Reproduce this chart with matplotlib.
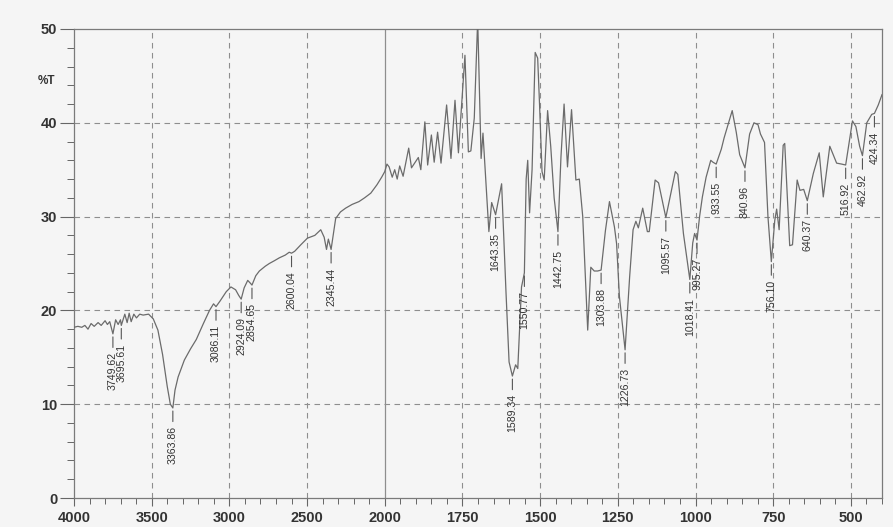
import numpy as np
import matplotlib
matplotlib.use("Agg")
import matplotlib.pyplot as plt
from matplotlib.ticker import FixedLocator, NullFormatter

# IR transmittance spectrum: wavenumber (cm-1, descending) and %T
wavenumber = [
    4000, 3975, 3950, 3930, 3910, 3890, 3870, 3845, 3825, 3800, 3785, 3770,
    3749.62, 3732, 3716, 3701, 3695.61, 3673, 3658, 3645, 3632, 3615, 3598,
    3577, 3555, 3520, 3490, 3460, 3430, 3400, 3380, 3363.86, 3350, 3330,
    3290, 3250, 3213, 3170, 3128, 3102, 3086.11, 3060, 3020, 2990, 2960,
    2940, 2924.09, 2905, 2882, 2865, 2854.65, 2830, 2807, 2770, 2743, 2710,
    2679, 2640, 2615, 2600.04, 2580, 2540, 2498, 2450, 2412, 2390, 2375,
    2363, 2345.44, 2330, 2316, 2285, 2252, 2210, 2166, 2130, 2090, 2050,
    2020, 2000,
    1993, 1986, 1976, 1968, 1960, 1952, 1941, 1923, 1914, 1892, 1884, 1871,
    1862, 1850, 1841, 1830, 1819, 1801, 1787, 1774, 1763, 1742, 1731, 1723,
    1712, 1701, 1690, 1684, 1665, 1656, 1643.35, 1624, 1610, 1600, 1589.34,
    1579, 1572, 1560, 1550.77, 1545, 1540, 1534, 1526, 1516, 1508, 1502,
    1494, 1487, 1476, 1466, 1455, 1442.75, 1433, 1423, 1412, 1399, 1385,
    1374, 1363, 1355, 1347, 1337, 1326, 1315, 1303.88, 1290, 1277, 1261,
    1254, 1245, 1226.73, 1212, 1201, 1192, 1184, 1170, 1155, 1149, 1130,
    1119, 1095.57, 1065, 1057, 1039, 1018.41, 1009, 1003, 995.27, 987, 978,
    966, 951, 944, 933.55, 917, 908, 882, 869, 858, 840.96, 826, 812, 799,
    791, 778, 767, 756.10, 745, 739, 731, 718, 713, 697, 688, 673, 664, 652,
    640.37, 621, 602, 589, 568, 546, 530, 516.92, 495, 484, 472, 462.92, 449,
    433, 424.34, 412, 400,
]
transmittance = [
    18.2, 18.3, 18.2, 18.4, 18.0, 18.6, 18.3, 18.7, 18.4, 18.9, 18.5, 18.8,
    17.5, 19.0, 18.5, 19.0, 18.4, 19.6, 18.7, 19.7, 18.8, 19.6, 19.2,
    19.6, 19.5, 19.6, 19.1, 17.9, 15.3, 11.9, 10.0, 9.6, 11.5, 12.9,
    14.7, 15.9, 16.9, 18.5, 20.0, 20.7, 20.4, 21.0, 22.0, 22.5, 22.2,
    21.6, 21.2, 22.4, 23.2, 22.9, 22.7, 23.7, 24.2, 24.7, 25.0, 25.3,
    25.6, 25.9, 26.2, 26.1, 26.3, 27.0, 27.7, 28.0, 28.6, 27.8, 26.5,
    27.6, 26.5, 28.2, 29.8, 30.5, 30.9, 31.3, 31.6, 32.0, 32.5, 33.4,
    34.2, 34.8,
    35.6, 35.3, 34.2, 35.0, 34.0, 35.4, 34.3, 37.3, 35.2, 36.3, 35.0, 40.1,
    35.5, 38.7, 35.8, 39.0, 35.7, 41.9, 36.2, 42.4, 36.8, 47.2, 36.9, 37.0,
    40.5, 51.0, 36.2, 38.9, 28.4, 31.5, 30.2, 33.5, 22.0, 14.5, 13.0,
    14.2, 13.8, 22.5, 24.0, 34.0, 36.0, 30.4, 35.0, 47.5, 46.9, 42.0,
    34.8, 33.9, 41.3, 37.5, 32.0, 28.4, 36.4, 42.0, 35.3, 41.4, 33.9,
    34.0, 30.0, 24.0, 17.9, 24.6, 24.2, 24.2, 24.3, 28.5, 31.6, 28.9,
    27.1, 21.5, 15.8, 23.6, 28.6, 29.5, 28.8, 30.9, 28.4, 28.4, 33.9,
    33.6, 29.9, 34.8, 34.5, 28.2, 23.3, 27.2, 28.2, 27.5, 30.0, 32.1,
    34.2, 36.0, 35.8, 35.6, 37.2, 38.4, 41.3, 39.0, 36.6, 35.2, 38.8, 40.0, 39.8,
    38.8, 37.9, 30.0, 25.2, 29.6, 30.8, 28.6, 37.6, 37.8, 26.9, 27.0, 33.9, 32.8, 32.9,
    31.7, 34.6, 36.8, 32.1, 37.5, 35.7, 35.6, 35.5, 40.2, 39.6, 37.5, 36.5, 40.0,
    40.9, 41.0, 41.9, 43.0,
]

# Annotated band positions
peak_labels = [
    "3749.62", "3695.61", "3363.86", "3086.11", "2924.09", "2854.65",
    "2600.04", "2345.44", "1643.35", "1589.34", "1550.77", "1442.75",
    "1303.88", "1226.73", "1095.57", "1018.41", "995.27", "933.55",
    "840.96", "756.10", "640.37", "516.92", "462.92", "424.34",
]

x_major = [4000, 3500, 3000, 2500, 2000, 1750, 1500, 1250, 1000, 750, 500]
y_major = [0, 10, 20, 30, 40, 50]

LINE = "#6b6b6b"
GRID = "#8e8e8e"
TEXT = "#333333"
BG = "#f5f5f5"
FONT = ["Liberation Sans Narrow", "Liberation Sans", "DejaVu Sans"]

plt.rcParams["font.family"] = FONT


def fwd(x):
    x = np.asarray(x, dtype=float)
    return np.where(x > 2000, 2000 + (x - 2000) / 2.0, x)


def inv(u):
    u = np.asarray(u, dtype=float)
    return np.where(u > 2000, 2000 + (u - 2000) * 2.0, u)


fig = plt.figure(figsize=(8.93, 5.27), dpi=100, facecolor=BG)
ax = fig.add_axes([74 / 893, 29 / 527, 808 / 893, 469 / 527], facecolor=BG)
ax.set_xscale("function", functions=(fwd, inv))
ax.set_xlim(4000, 400)
ax.set_ylim(0, 50)

# grid
for gx in x_major[1:]:
    if gx == 2000:
        ax.axvline(gx, color=GRID, lw=0.9, zorder=1)
    else:
        ax.axvline(gx, color=GRID, lw=0.8, ls=(0, (5, 4)), zorder=1)
for gy in y_major[1:-1]:
    ax.axhline(gy, color=GRID, lw=0.8, ls=(0, (5, 4)), zorder=1)

wn = np.array(wavenumber, dtype=float)
tr = np.array(transmittance, dtype=float)
ax.plot(wn, tr, color=LINE, lw=0.9, zorder=3)

# band labels below each marked point
order = np.argsort(wn)
for lab in peak_labels:
    pos = float(lab)
    t = np.interp(pos, wn[order], tr[order])
    ax.annotate(
        lab, xy=(pos, t), xytext=(0, -13), textcoords="offset points",
        rotation=90, ha="center", va="top", fontsize=7.6, color=TEXT,
        family=FONT,
        arrowprops=dict(arrowstyle="-", color="#555555", lw=0.8,
                        shrinkA=1.2, shrinkB=2.2),
        zorder=4, annotation_clip=False,
    )

# ticks
minor_x = [v for v in range(3900, 2000, -100) if v not in x_major]
minor_x += [v for v in range(1950, 399, -50) if v not in x_major]
ax.xaxis.set_major_locator(FixedLocator(x_major))
ax.xaxis.set_minor_locator(FixedLocator(minor_x))
ax.xaxis.set_minor_formatter(NullFormatter())
ax.yaxis.set_major_locator(FixedLocator(y_major))
ax.yaxis.set_minor_locator(FixedLocator([v for v in range(2, 50, 2) if v % 10]))
ax.yaxis.set_minor_formatter(NullFormatter())

ax.tick_params(axis="x", which="major", direction="out", length=6, width=0.8,
               color="#666666", labelsize=10.5, labelcolor=TEXT, pad=3)
ax.tick_params(axis="x", which="minor", direction="out", length=4, width=0.7,
               color="#666666")
ax.tick_params(axis="y", which="major", direction="out", length=10, width=0.8,
               color="#666666", labelsize=10.5, labelcolor=TEXT, pad=2)
ax.tick_params(axis="y", which="minor", direction="out", length=5, width=0.7,
               color="#666666")
for lbl in ax.get_xticklabels() + ax.get_yticklabels():
    lbl.set_fontweight("bold")

for s in ax.spines.values():
    s.set_color("#7a7a7a")
    s.set_linewidth(0.9)

fig.text(47 / 893, 1 - 81 / 527, "%T", ha="center", va="center",
         fontsize=8.5, color=TEXT, fontweight="bold")

fig.savefig("out.png", dpi=100, facecolor=BG)
